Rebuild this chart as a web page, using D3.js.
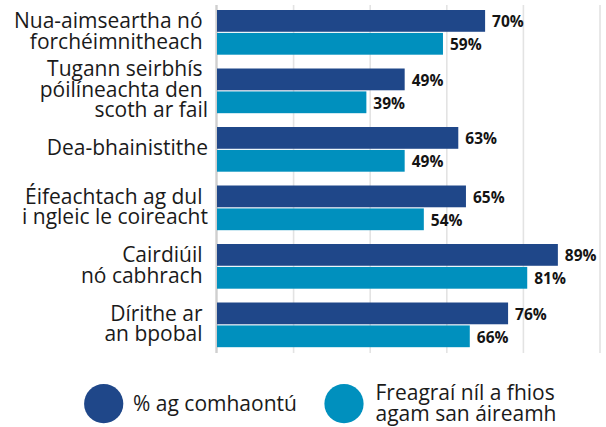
<!DOCTYPE html>
<html>
<head>
<meta charset="utf-8">
<script src="https://cdn.jsdelivr.net/npm/d3@7"></script>
<style>
  html, body { margin: 0; padding: 0; background: #ffffff; }
  svg { display: block; }
  text { font-family: "Open Sans", "Noto Sans", sans-serif; }
  .cat { white-space: pre; }
</style>
</head>
<body>
<svg id="chart" width="606" height="427"></svg>
<script>
// Category labels, one array entry per wrapped line (trailing spaces kept)
const categories = [
  ["Nua-aimseartha nó ", "forchéimnitheach "],
  ["Tugann seirbhís ", "póilíneachta den ", "scoth ar fail"],
  ["Dea-bhainistithe"],
  ["Éifeachtach ag dul ", "i ngleic le coireacht"],
  ["Cairdiúil ", "nó cabhrach "],
  ["Dírithe ar ", "an bpobal "]
];
const seriesNames = ["% ag comhaontú", "Freagraí níl a fhios agam san áireamh"];
const legendLines = [["% ag comhaontú"], ["Freagraí níl a fhios", "agam san áireamh"]];
const agree = [70, 49, 63, 65, 89, 76];
const withDontKnow = [59, 39, 49, 54, 81, 66];
const xTicks = [0, 20, 40, 60, 80, 100];
const colors = ["#1f4789", "#0090be"];

const svg = d3.select("#chart");
const keys = categories.map((c, i) => i);
const rows = keys.map(i => ({ i, values: [agree[i], withDontKnow[i]] }));

const x = d3.scaleLinear().domain([0, 100]).range([217, 600]);
const y = d3.scaleBand().domain(keys).range([3.1, 354.1])
  .paddingInner(0.236).paddingOuter(0.118);
const ySub = d3.scaleBand().domain([0, 1]).range([0, y.bandwidth()]).paddingInner(0.05);

// Vertical gridlines
svg.append("g").selectAll("line")
  .data(xTicks.slice(1))
  .join("line")
  .attr("x1", d => x(d)).attr("x2", d => x(d))
  .attr("y1", 5).attr("y2", 353)
  .attr("stroke", "#e3e3e3").attr("stroke-width", 1.6);

// Baseline axis
svg.append("line")
  .attr("x1", x(0) - 0.5).attr("x2", x(0) - 0.5)
  .attr("y1", 5).attr("y2", 353)
  .attr("stroke", "#cfcfcf").attr("stroke-width", 2.4);

// Bars
const groups = svg.append("g").selectAll("g")
  .data(rows)
  .join("g")
  .attr("transform", d => `translate(0,${y(d.i)})`);

groups.selectAll("rect")
  .data(d => d.values.map((v, s) => ({ v, s })))
  .join("rect")
  .attr("x", x(0))
  .attr("y", d => ySub(d.s))
  .attr("width", d => x(d.v) - x(0))
  .attr("height", ySub.bandwidth())
  .attr("fill", d => colors[d.s]);

// Value labels
groups.selectAll("text.val")
  .data(d => d.values.map((v, s) => ({ v, s })))
  .join("text")
  .attr("class", "val")
  .attr("x", d => x(d.v) + 7)
  .attr("y", d => ySub(d.s) + ySub.bandwidth() / 2 + 6.3)
  .attr("font-size", "15.5px")
  .attr("font-weight", 700)
  .attr("fill", "#141414")
  .text(d => d.v + "%");

// Category labels
const lh = 20.5;
const catLabels = svg.append("g").selectAll("text")
  .data(rows)
  .join("text")
  .attr("class", "cat")
  .attr("text-anchor", "end")
  .attr("font-size", "21px")
  .attr("fill", "#1a1a1a")
  .attr("y", d => y(d.i) + y.bandwidth() / 2 - (categories[d.i].length - 1) / 2 * lh + 6);
catLabels.selectAll("tspan")
  .data(d => categories[d.i])
  .join("tspan")
  .attr("x", 208)
  .attr("dy", (d, j) => j === 0 ? 0 : lh)
  .text(d => d);

// Legend
const legendPos = [{ cx: 103.7, tx: 133 }, { cx: 344, tx: 375.5 }];
const legend = svg.append("g").selectAll("g")
  .data(seriesNames.map((n, s) => ({ n, s })))
  .join("g");
legend.append("circle")
  .attr("cx", d => legendPos[d.s].cx)
  .attr("cy", 403.7)
  .attr("r", 19.6)
  .attr("fill", d => colors[d.s]);
legend.append("text")
  .attr("font-size", "21px")
  .attr("fill", "#1a1a1a")
  .attr("y", d => 403.7 - (legendLines[d.s].length - 1) / 2 * 20.7 + 7)
  .selectAll("tspan")
  .data(d => legendLines[d.s].map(t => ({ t, s: d.s })))
  .join("tspan")
  .attr("x", d => legendPos[d.s].tx)
  .attr("dy", (d, j) => j === 0 ? 0 : 20.7)
  .text(d => d.t);
</script>
</body>
</html>
